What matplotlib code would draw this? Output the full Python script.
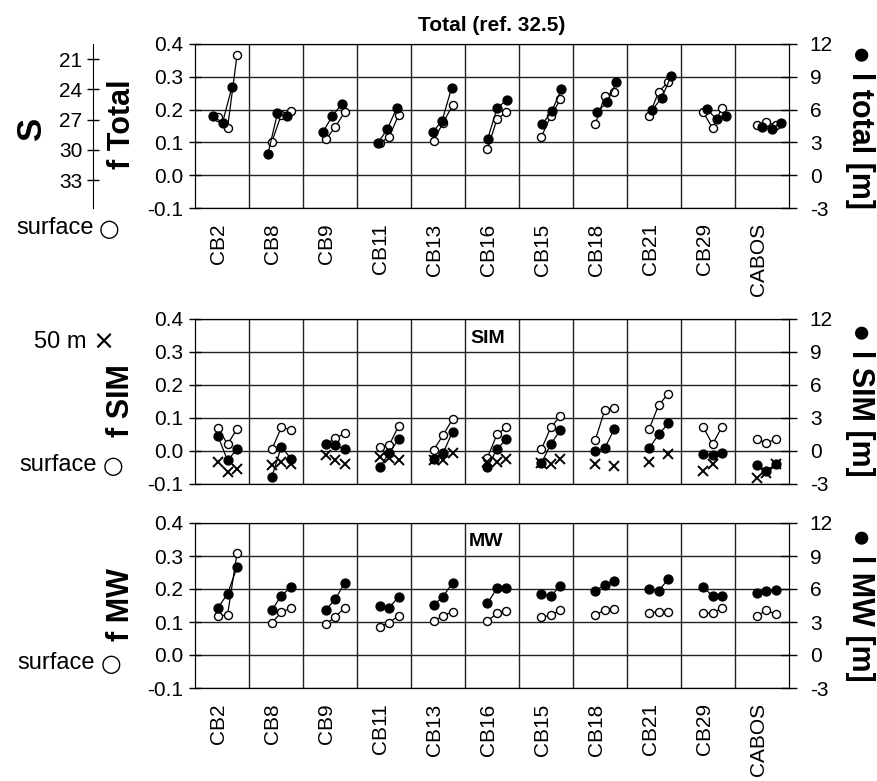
import numpy as np
import matplotlib
matplotlib.use("Agg")
import matplotlib.pyplot as plt
from matplotlib.ticker import FixedLocator, MultipleLocator, FormatStrFormatter

plt.rcParams['font.family'] = ['Liberation Sans', 'DejaVu Sans']
plt.rcParams['axes.unicode_minus'] = False

# Datos
stations = ["CB2", "CB8", "CB9", "CB11", "CB13", "CB16", "CB15", "CB18", "CB21", "CB29", "CABOS"]
S_REF = 32.5

# Total: fraccion en superficie (f) y espesor (l, m)
f_total_surf = [[0.177, 0.143, 0.366], [0.102, 0.185, 0.197], [0.109, 0.147, 0.193],
                [0.097, 0.117, 0.184], [0.105, 0.160, 0.213], [0.081, 0.170, 0.193],
                [0.117, 0.181, 0.231], [0.156, 0.241, 0.255], [0.180, 0.255, 0.283],
                [0.193, 0.143, 0.206], [0.153, 0.161, 0.153]]
l_total = [[5.40, 4.80, 8.10], [1.95, 5.66, 5.40], [3.95, 5.40, 6.54],
           [2.94, 4.20, 6.15], [3.93, 5.00, 8.00], [3.28, 6.12, 6.88],
           [4.65, 5.90, 7.86], [5.78, 6.67, 8.50], [5.96, 7.09, 9.10],
           [6.03, 5.10, 5.40], [4.44, 4.20, 4.80]]

# SIM
f_sim_surf = [[0.071, 0.020, 0.067], [0.005, 0.072, 0.064], [0.021, 0.038, 0.054],
              [0.013, 0.018, 0.076], [0.003, 0.048, 0.097], [-0.020, 0.050, 0.072],
              [0.005, 0.072, 0.106], [0.033, 0.124, 0.131], [0.067, 0.139, 0.173],
              [0.074, 0.020, 0.074], [0.035, 0.025, 0.035]]
f_sim_50m = [[-0.032, -0.065, -0.055], [-0.042, -0.032, -0.040], [-0.012, -0.027, -0.040],
             [-0.017, -0.020, -0.027], [-0.027, -0.027, -0.005], [-0.032, -0.032, -0.025],
             [-0.035, -0.040, -0.024], [-0.039, np.nan, -0.044], [-0.032, np.nan, -0.009],
             [-0.060, -0.039, np.nan], [-0.081, -0.068, -0.040]]
l_sim = [[1.36, -0.86, 0.18], [-2.34, 0.40, -0.70], [0.60, 0.55, 0.15],
         [-1.50, -0.15, 1.05], [-0.73, -0.20, 1.76], [-1.50, 0.20, 1.05],
         [-1.10, 0.64, 1.90], [0.00, 0.25, 2.00], [0.25, 1.50, 2.50],
         [-0.27, -0.40, -0.15], [-1.27, -1.82, -1.17]]

# MW
f_mw_surf = [[0.118, 0.121, 0.308], [0.098, 0.129, 0.143], [0.093, 0.116, 0.143],
             [0.086, 0.098, 0.119], [0.103, 0.119, 0.131], [0.103, 0.126, 0.133],
             [0.114, 0.121, 0.136], [0.121, 0.136, 0.139], [0.128, 0.131, 0.131],
             [0.126, 0.128, 0.141], [0.118, 0.136, 0.123]]
l_mw = [[4.30, 5.55, 7.97], [4.09, 5.40, 6.15], [4.09, 5.07, 6.57],
        [4.45, 4.30, 5.30], [4.55, 5.30, 6.57], [4.70, 6.06, 6.06],
        [5.55, 5.36, 6.30], [5.85, 6.36, 6.76], [5.97, 5.82, 6.90],
        [6.20, 5.36, 5.36], [5.67, 5.82, 5.90]]

n = len(stations)
W, H = 878, 781
fig = plt.figure(figsize=(W / 100, H / 100), dpi=100)


def add_ax(left, top, right, bottom):
    return fig.add_axes([left / W, 1 - bottom / H, (right - left) / W, (bottom - top) / H])


def xpos(i, first=0.426, step=0.998):
    return first + i * step + 0.176 * np.arange(3)


def setup(ax, labels):
    ax.set_xlim(0, n)
    ax.set_ylim(-0.1, 0.4)
    ax.yaxis.set_major_locator(MultipleLocator(0.1))
    ax.yaxis.set_major_formatter(FormatStrFormatter('%.1f'))
    ax.set_xticks(np.arange(n) + 0.43)
    ax.set_xticklabels(stations if labels else [], rotation=90, fontsize=15)
    ax.xaxis.set_minor_locator(FixedLocator(np.arange(1, n)))
    ax.tick_params(axis='x', which='both', length=0, pad=11)
    ax.tick_params(axis='y', direction='inout', length=9, width=1, labelsize=15, pad=4)
    ax.grid(True, axis='y', which='major', color='#222222', lw=1)
    ax.grid(True, axis='x', which='minor', color='#222222', lw=1)
    for s in ax.spines.values():
        s.set_color('#222222')
    ax2 = ax.twinx()
    ax2.set_ylim(-3, 12)
    ax2.set_yticks(np.arange(-3, 13, 3))
    ax2.tick_params(direction='inout', length=12, width=1, labelsize=15, pad=9)
    return ax2


open_kw = dict(color='black', lw=0.9, marker='o', ms=5.8, mfc='white', mec='black', mew=1)
fill_kw = dict(color='black', lw=0.9, marker='o', ms=6.4, mfc='black', mec='black')
x_kw = dict(ls='none', marker='x', ms=7, mew=1.4, color='black')

# Panel superior
ax1 = add_ax(195, 44, 789, 208)
ax1b = setup(ax1, True)
for i in range(n):
    ax1.plot(xpos(i), f_total_surf[i], **open_kw)
    ax1b.plot(xpos(i, 0.334, 1.0167), l_total[i], **fill_kw)
ax1.set_title("Total (ref. 32.5)", fontweight='bold', fontsize=15, pad=9)

sec = ax1.secondary_yaxis((93 - 195) / 594, functions=(lambda f: S_REF * (1 - f),
                                                        lambda s: 1 - s / S_REF))
sec.set_yticks([21, 24, 27, 30, 33])
sec.tick_params(direction='inout', length=9, width=1, labelsize=15, pad=3)

# Panel SIM
ax2 = add_ax(195, 319, 789, 484)
ax2b = setup(ax2, False)
for i in range(n):
    ax2.plot(xpos(i), f_sim_surf[i], **open_kw)
    ax2.plot(xpos(i), f_sim_50m[i], **x_kw)
    ax2b.plot(xpos(i), l_sim[i], **fill_kw)
ax2.text(0.493, 0.88, "SIM", transform=ax2.transAxes, ha='center', va='center',
         fontsize=14, fontweight='bold')

# Panel MW
ax3 = add_ax(195, 523, 789, 688)
ax3b = setup(ax3, True)
for i in range(n):
    ax3.plot(xpos(i), f_mw_surf[i], **open_kw)
    ax3b.plot(xpos(i), l_mw[i], **fill_kw)
ax3.text(0.49, 0.89, "MW", transform=ax3.transAxes, ha='center', va='center',
         fontsize=14, fontweight='bold')


def ftext(x, y, s, **kw):
    fig.text(x / W, 1 - y / H, s, **kw)


# Etiquetas izquierda
ftext(32, 128, "S", rotation=90, ha='center', va='center', fontsize=25, fontweight='bold')
ftext(122, 124, "f Total", rotation=90, ha='center', va='center', fontsize=22, fontweight='bold')
ftext(121, 401, "f SIM", rotation=90, ha='center', va='center', fontsize=22, fontweight='bold')
ftext(121, 605, "f MW", rotation=90, ha='center', va='center', fontsize=22, fontweight='bold')
for xr, xc, y in [(94, 109, 228), (97, 113, 465), (95, 111, 663)]:
    ftext(xr, y, "surface", ha='right', va='center', fontsize=17)
    ftext(xc, y + 1, "\u25cb", ha='center', va='center', fontsize=17, family='DejaVu Sans')
ftext(87, 342, "50 m", ha='right', va='center', fontsize=17)
ftext(103, 343, "\u00d7", ha='center', va='center', fontsize=19, family='DejaVu Sans')

# Etiquetas derecha
ftext(860, 127, "\u25cf l total [m]", rotation=270, ha='center', va='center', fontsize=22, fontweight='bold')
ftext(860, 400, "\u25cf l SIM [m]", rotation=270, ha='center', va='center', fontsize=22, fontweight='bold')
ftext(860, 605, "\u25cf l MW [m]", rotation=270, ha='center', va='center', fontsize=22, fontweight='bold')

fig.savefig("out.png", dpi=100)
